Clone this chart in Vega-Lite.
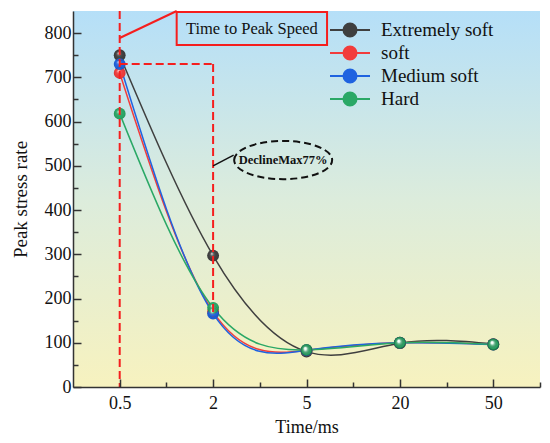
{
  "$schema": "https://vega.github.io/schema/vega-lite/v6.json",
  "width": 467,
  "height": 376,
  "autosize": "none",
  "padding": {"left": 73, "top": 11, "right": 10, "bottom": 56},
  "background": "white",
  "config": {
    "view": {"stroke": null, "fill": {"gradient": "linear", "x1": 0, "y1": 0, "x2": 0, "y2": 1,
        "stops": [{"offset": 0, "color": "#b5dff8"}, {"offset": 0.5, "color": "#dcecdc"}, {"offset": 1, "color": "#f7f2bf"}]}},
    "font": "Liberation Serif, Times New Roman, serif",
    "text": {"font": "Liberation Serif, Times New Roman, serif"},
    "legend": {"labelFont": "Liberation Serif, Times New Roman, serif", "labelFontSize": 19, "labelColor": "#111111"},
    "axis": {"grid": false, "zindex": 1, "domainColor": "#333333", "domainWidth": 1.5, "tickColor": "#333333", "tickWidth": 1.5,
      "labelFont": "Liberation Serif, Times New Roman, serif", "labelFontSize": 18, "labelColor": "#111111",
      "titleFont": "Liberation Serif, Times New Roman, serif", "titleFontSize": 18, "titleFontWeight": "normal", "titleColor": "#111111"}
  },
  "resolve": {"axis": {"x": "independent", "y": "independent"}},
  "datasets": {
    "rates": [
      {"series": "Extremely soft", "t": 0, "time": "0.5", "rate": 750},
      {"series": "Extremely soft", "t": 1, "time": "2", "rate": 297},
      {"series": "Extremely soft", "t": 2, "time": "5", "rate": 80},
      {"series": "Extremely soft", "t": 3, "time": "20", "rate": 99},
      {"series": "Extremely soft", "t": 4, "time": "50", "rate": 97},
      {"series": "soft", "t": 0, "time": "0.5", "rate": 710},
      {"series": "soft", "t": 1, "time": "2", "rate": 170},
      {"series": "soft", "t": 2, "time": "5", "rate": 83},
      {"series": "soft", "t": 3, "time": "20", "rate": 100},
      {"series": "soft", "t": 4, "time": "50", "rate": 96},
      {"series": "Medium soft", "t": 0, "time": "0.5", "rate": 730},
      {"series": "Medium soft", "t": 1, "time": "2", "rate": 166},
      {"series": "Medium soft", "t": 2, "time": "5", "rate": 83},
      {"series": "Medium soft", "t": 3, "time": "20", "rate": 100},
      {"series": "Medium soft", "t": 4, "time": "50", "rate": 96},
      {"series": "Hard", "t": 0, "time": "0.5", "rate": 618},
      {"series": "Hard", "t": 1, "time": "2", "rate": 179},
      {"series": "Hard", "t": 2, "time": "5", "rate": 84},
      {"series": "Hard", "t": 3, "time": "20", "rate": 100},
      {"series": "Hard", "t": 4, "time": "50", "rate": 96}
    ],
    "one": [{"id": 1}]
  },
  "layer": [
    {
      "data": {"name": "one"},
      "mark": {"type": "rect", "opacity": 0},
      "encoding": {
        "x": {"datum": -0.5, "type": "quantitative", "scale": {"domain": [-0.5, 4.5], "nice": false, "zero": false},
          "axis": {"orient": "bottom", "zindex": 1, "title": "Time/ms", "values": [0, 1, 2, 3, 4],
            "labelExpr": "datum.value === 0 ? '0.5' : datum.value === 1 ? '2' : datum.value === 2 ? '5' : datum.value === 3 ? '20' : '50'",
            "tickSize": -8, "labelPadding": 15, "titlePadding": 6, "labelFlush": false}},
        "x2": {"datum": -0.5},
        "y": {"datum": 0, "type": "quantitative", "scale": {"domain": [0, 850], "nice": false, "zero": true},
          "axis": {"orient": "left", "zindex": 1, "title": "Peak stress rate", "titleFontSize": 19, "values": [0, 100, 200, 300, 400, 500, 600, 700, 800],
            "tickSize": -8, "labelPadding": 10, "titlePadding": 14}},
        "y2": {"datum": 0}
      }
    },
    {
      "data": {"name": "one"},
      "mark": {"type": "rect", "opacity": 0},
      "encoding": {
        "x": {"datum": -0.5, "type": "quantitative",
          "axis": {"orient": "bottom", "zindex": 1, "title": null, "values": [0.5, 1.5, 2.5, 3.5, 4.5], "labels": false, "domain": false, "tickSize": -5}},
        "x2": {"datum": -0.5},
        "y": {"datum": 0, "type": "quantitative",
          "axis": {"orient": "left", "zindex": 1, "title": null, "values": [50, 150, 250, 350, 450, 550, 650, 750], "labels": false, "domain": false, "tickSize": -5}},
        "y2": {"datum": 0}
      }
    },
    {
      "data": {"name": "rates"},
      "mark": {"type": "line", "interpolate": "natural", "strokeWidth": 1.5},
      "encoding": {
        "x": {"field": "t", "type": "quantitative", "axis": null},
        "y": {"field": "rate", "type": "quantitative", "axis": null},
        "color": {"field": "series", "type": "nominal",
          "scale": {"domain": ["Extremely soft", "soft", "Medium soft", "Hard"], "range": ["#3f3f3f", "#f23c3c", "#1f63e0", "#2aa866"]},
          "legend": {"title": null, "orient": "none", "legendX": 266, "legendY": 8, "padding": 0,
            "labelFont": "Liberation Serif, Times New Roman, serif", "labelFontSize": 19, "labelColor": "#111111", "labelOffset": 20,
            "symbolType": "M-2,0H2M0.65,0A0.65,0.65 0 1,1 -0.65,0A0.65,0.65 0 1,1 0.65,0Z",
            "symbolSize": 400, "rowPadding": 1,
            "encode": {"symbols": {"update": {"fill": {"scale": "color", "field": "value"}, "stroke": {"scale": "color", "field": "value"}, "strokeWidth": {"value": 2}}}}}
        },
        "order": {"field": "t"}
      }
    },
    {
      "data": {"name": "rates"},
      "mark": {"type": "point", "filled": true, "size": 140, "opacity": 1},
      "encoding": {
        "x": {"field": "t", "type": "quantitative", "axis": null},
        "y": {"field": "rate", "type": "quantitative", "axis": null},
        "color": {"field": "series", "type": "nominal", "legend": null}
      }
    },
    {
      "data": {"name": "rates"},
      "mark": {"type": "point", "filled": true, "size": 140, "opacity": 1,
        "color": {"gradient": "radial", "x1": 0.38, "y1": 0.32, "r1": 0, "x2": 0.5, "y2": 0.5, "r2": 0.5,
          "stops": [{"offset": 0, "color": "rgba(255,255,255,0.95)"}, {"offset": 0.3, "color": "rgba(255,255,255,0.15)"}, {"offset": 0.8, "color": "rgba(0,0,0,0)"}, {"offset": 1, "color": "rgba(0,0,0,0.15)"}]}},
      "encoding": {
        "x": {"field": "t", "type": "quantitative", "axis": null},
        "y": {"field": "rate", "type": "quantitative", "axis": null}
      }
    },
    {
      "data": {"name": "one"},
      "mark": {"type": "rule", "color": "#f51e1e", "strokeWidth": 2, "strokeDash": [8, 4]},
      "encoding": {"x": {"datum": 0, "axis": null}}
    },
    {
      "data": {"name": "one"},
      "mark": {"type": "rule", "color": "#f51e1e", "strokeWidth": 2, "strokeDash": [8, 4]},
      "encoding": {"x": {"datum": 0, "axis": null}, "x2": {"datum": 1}, "y": {"datum": 730, "axis": null}}
    },
    {
      "data": {"name": "one"},
      "mark": {"type": "rule", "color": "#f51e1e", "strokeWidth": 2, "strokeDash": [8, 4]},
      "encoding": {"x": {"datum": 1, "axis": null}, "y": {"datum": 730, "axis": null}, "y2": {"datum": 160}}
    },
    {
      "data": {"name": "one"},
      "mark": {"type": "rule", "color": "#f51e1e", "strokeWidth": 2},
      "encoding": {"x": {"datum": 0, "axis": null}, "y": {"datum": 789, "axis": null}, "x2": {"datum": 0.61}, "y2": {"datum": 850}}
    },
    {
      "data": {"name": "one"},
      "mark": {"type": "rect", "fill": null, "stroke": "#f51e1e", "strokeWidth": 2},
      "encoding": {"x": {"datum": 0.61, "axis": null}, "x2": {"datum": 2.22}, "y": {"datum": 848, "axis": null}, "y2": {"datum": 773}}
    },
    {
      "data": {"name": "one"},
      "mark": {"type": "text", "text": "Time to Peak Speed", "font": "Liberation Serif, Times New Roman, serif", "fontSize": 16.5, "fontWeight": "normal", "fill": "#111111", "align": "center", "baseline": "middle"},
      "encoding": {"x": {"datum": 1.415, "axis": null}, "y": {"datum": 810, "axis": null}}
    },
    {
      "data": {"name": "one"},
      "mark": {"type": "rule", "color": "#111111", "strokeWidth": 1.5},
      "encoding": {"x": {"datum": 1, "axis": null}, "y": {"datum": 500, "axis": null}, "x2": {"datum": 1.22}, "y2": {"datum": 524}}
    },
    {
      "data": {"name": "one"},
      "mark": {"type": "point", "shape": "M-1,0A1,0.39 0 1,1 1,0A1,0.39 0 1,1 -1,0Z", "size": 9604, "filled": false, "fill": null, "stroke": "#111111", "strokeWidth": 2, "strokeDash": [7, 4], "opacity": 1},
      "encoding": {"x": {"datum": 1.75, "axis": null}, "y": {"datum": 513, "axis": null}}
    },
    {
      "data": {"name": "one"},
      "mark": {"type": "text", "text": "DeclineMax77%", "font": "Liberation Serif, Times New Roman, serif", "fontSize": 12.5, "fontWeight": "bold", "fill": "#111111", "align": "center", "baseline": "middle"},
      "encoding": {"x": {"datum": 1.75, "axis": null}, "y": {"datum": 513, "axis": null}}
    }
  ]
}
